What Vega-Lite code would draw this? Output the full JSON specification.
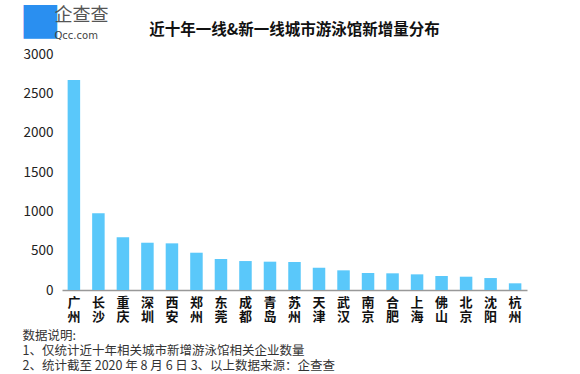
{
  "$schema": "https://vega.github.io/schema/vega-lite/v6.json",
  "width": 465,
  "height": 236,
  "autosize": {"type": "none"},
  "padding": {"left": 62, "top": 54, "right": 53, "bottom": 84},
  "background": "white",
  "config": {"view": {"stroke": null}, "font": "Noto Sans CJK SC"},
  "title": {
    "text": "近十年一线&新一线城市游泳馆新增量分布",
    "fontSize": 15.5,
    "fontWeight": "bold",
    "color": "#111",
    "anchor": "middle",
    "frame": "group",
    "offset": 16,
    "dy": 57
  },
  "data": {
    "values": [
      {"city": "广州", "value": 2668},
      {"city": "长沙", "value": 975},
      {"city": "重庆", "value": 669},
      {"city": "深圳", "value": 601},
      {"city": "西安", "value": 593},
      {"city": "郑州", "value": 474},
      {"city": "东莞", "value": 394},
      {"city": "成都", "value": 368},
      {"city": "青岛", "value": 360},
      {"city": "苏州", "value": 356},
      {"city": "天津", "value": 284},
      {"city": "武汉", "value": 250},
      {"city": "南京", "value": 216},
      {"city": "合肥", "value": 212},
      {"city": "上海", "value": 199},
      {"city": "佛山", "value": 178},
      {"city": "北京", "value": 169},
      {"city": "沈阳", "value": 152},
      {"city": "杭州", "value": 85}
    ]
  },
  "layer": [
    {
      "mark": {"type": "bar", "color": "#5ac8fa"},
      "encoding": {
        "x": {
          "field": "city",
          "type": "nominal",
          "sort": null,
          "scale": {"paddingInner": 0.49, "paddingOuter": 0.23},
          "axis": {
            "title": ["数据说明:", "1、仅统计近十年相关城市新增游泳馆相关企业数量", "2、统计截至 2020 年 8 月 6 日 3、以上数据来源：企查查"],
            "titleFontSize": 12.5,
            "titleFontWeight": "normal",
            "titleColor": "#333",
            "titleAlign": "left",
            "titleAnchor": "start",
            "titleX": -40,
            "titleY": 39,
            "titleBaseline": "top",
            "titleLineHeight": 15,
            "labelAngle": 0,
            "labelExpr": "split(datum.label, '')",
            "labelFontSize": 13,
            "labelFontWeight": "bold",
            "labelColor": "#111",
            "labelLineHeight": 14,
            "labelBaseline": "top",
            "labelPadding": 6,
            "labelOverlap": false,
            "ticks": false,
            "domainColor": "#999",
            "domainWidth": 1.5
          }
        },
        "y": {
          "field": "value",
          "type": "quantitative",
          "scale": {"domain": [0, 3000], "nice": false},
          "axis": {
            "values": [0, 500, 1000, 1500, 2000, 2500, 3000],
            "format": "d",
            "grid": false,
            "domain": false,
            "ticks": false,
            "labelFontSize": 13.5,
            "labelColor": "#222",
            "labelPadding": 9,
            "title": "企查查",
            "titleFontSize": 18,
            "titleFontWeight": "normal",
            "titleColor": "#555",
            "titleAngle": 0,
            "titleAlign": "left",
            "titleBaseline": "top",
            "titleX": -8,
            "titleY": -48
          }
        }
      }
    },
    {
      "mark": {"type": "bar", "opacity": 0},
      "encoding": {
        "x": {
          "field": "city",
          "type": "nominal",
          "sort": null,
          "scale": {"paddingInner": 0.49, "paddingOuter": 0.23},
          "axis": {
            "orient": "top",
            "labels": false,
            "ticks": false,
            "domain": false,
            "title": "■",
            "titleFontSize": 44,
            "titleFont": "DejaVu Sans",
            "titleFontWeight": "normal",
            "titleColor": "#2a8ff0",
            "titleAlign": "left",
            "titleBaseline": "top",
            "titleX": -43,
            "titleY": -57
          }
        },
        "y": {
          "field": "value",
          "type": "quantitative",
          "scale": {"domain": [0, 3000], "nice": false},
          "axis": {
            "orient": "right",
            "labels": false,
            "ticks": false,
            "domain": false,
            "grid": false,
            "title": "Qcc.com",
            "titleFont": "DejaVu Sans",
            "titleFontSize": 10,
            "titleFontWeight": "normal",
            "titleColor": "#444",
            "titleAngle": 0,
            "titleAlign": "left",
            "titleBaseline": "top",
            "titleX": -473,
            "titleY": -24
          }
        }
      }
    }
  ],
  "resolve": {"scale": {"x": "independent", "y": "independent"}}
}
